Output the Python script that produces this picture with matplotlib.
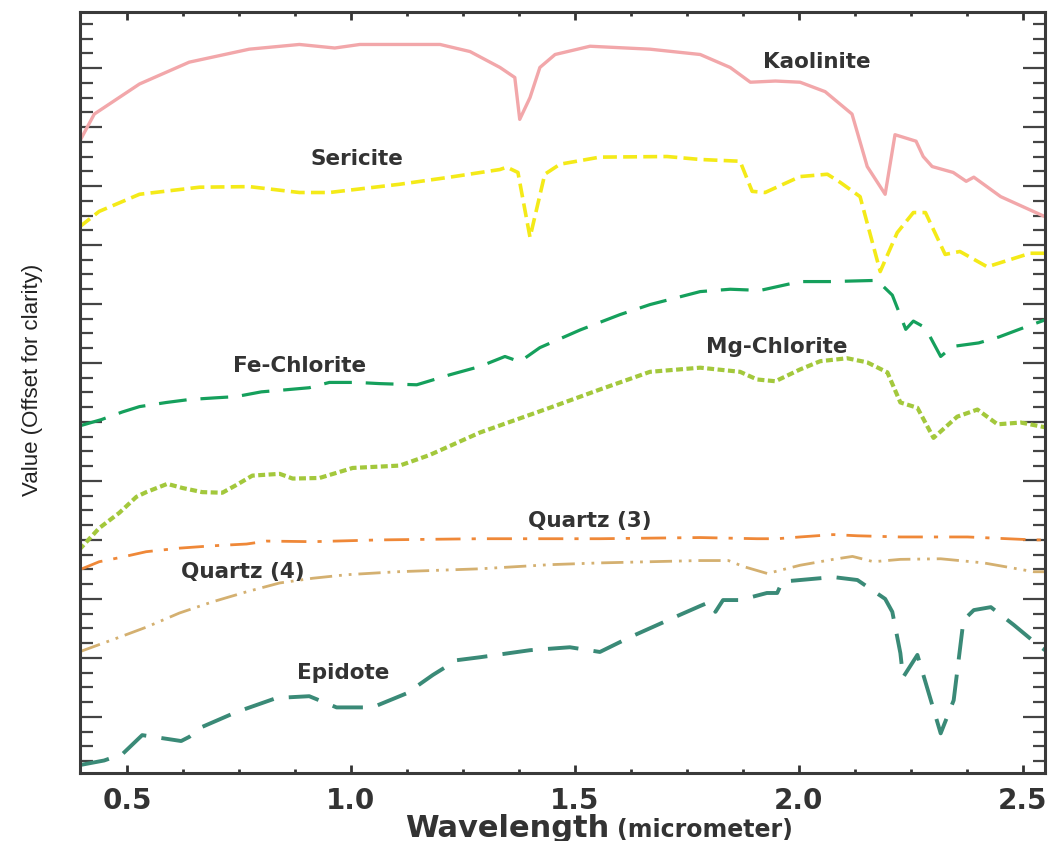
import matplotlib
matplotlib.use('Agg')
import matplotlib.pyplot as plt
from matplotlib.ticker import MultipleLocator, NullFormatter, FormatStrFormatter

plt.rcParams['font.family'] = ['DejaVu Sans']
plt.rcParams['lines.scale_dashes'] = False

# spectra (wavelength in micrometer, offset value)
kao_x = [0.393, 0.427, 0.528, 0.639, 0.773, 0.885, 0.964, 1.020, 1.199, 1.266, 1.333, 1.366,
         1.377, 1.400, 1.422, 1.456, 1.534, 1.668, 1.780, 1.847, 1.892, 1.948, 2.003, 2.059,
         2.119, 2.153, 2.193, 2.215, 2.262, 2.278, 2.298, 2.345, 2.374, 2.391, 2.451, 2.55]
kao_y = [10.74, 11.22, 11.73, 12.10, 12.32, 12.40, 12.34, 12.40, 12.40, 12.28, 12.01, 11.84,
         11.13, 11.50, 12.01, 12.23, 12.37, 12.32, 12.23, 12.01, 11.76, 11.78, 11.76, 11.60,
         11.22, 10.33, 9.86, 10.87, 10.76, 10.50, 10.33, 10.23, 10.08, 10.15, 9.82, 9.48]

ser_x = [0.393, 0.438, 0.528, 0.662, 0.773, 0.885, 0.952, 1.109, 1.221, 1.333, 1.348, 1.373,
         1.400, 1.433, 1.467, 1.556, 1.706, 1.780, 1.869, 1.896, 1.925, 2.003, 2.064, 2.093,
         2.137, 2.182, 2.220, 2.256, 2.283, 2.327, 2.360, 2.421, 2.517, 2.55]
ser_y = [9.30, 9.57, 9.86, 9.98, 9.99, 9.89, 9.89, 10.03, 10.15, 10.28, 10.32, 10.23,
         9.13, 10.20, 10.37, 10.49, 10.50, 10.45, 10.42, 9.91, 9.89, 10.16, 10.20, 10.06,
         9.82, 8.55, 9.21, 9.55, 9.55, 8.84, 8.89, 8.63, 8.86, 8.86]

fec_x = [0.393, 0.443, 0.490, 0.528, 0.588, 0.639, 0.700, 0.744, 0.800, 0.847, 0.907, 0.952,
         1.013, 1.064, 1.147, 1.169, 1.221, 1.288, 1.344, 1.377, 1.422, 1.512, 1.601, 1.668,
         1.780, 1.847, 1.914, 2.003, 2.070, 2.175, 2.209, 2.239, 2.256, 2.275, 2.293, 2.317,
         2.344, 2.402, 2.447, 2.496, 2.55]
fec_y = [5.93, 6.04, 6.17, 6.26, 6.33, 6.38, 6.41, 6.43, 6.51, 6.54, 6.58, 6.67,
         6.67, 6.65, 6.63, 6.68, 6.80, 6.94, 7.11, 7.02, 7.26, 7.56, 7.82, 7.99,
         8.21, 8.25, 8.23, 8.38, 8.38, 8.40, 8.15, 7.57, 7.71, 7.63, 7.45, 7.11,
         7.28, 7.34, 7.44, 7.58, 7.73]

mgc_x = [0.393, 0.438, 0.483, 0.521, 0.543, 0.590, 0.624, 0.668, 0.713, 0.744, 0.780, 0.841,
         0.870, 0.930, 1.004, 1.109, 1.176, 1.288, 1.444, 1.556, 1.668, 1.780, 1.869, 1.907,
         1.948, 2.003, 2.048, 2.108, 2.153, 2.198, 2.227, 2.265, 2.301, 2.354, 2.399, 2.444,
         2.496, 2.55]
mgc_y = [3.83, 4.20, 4.46, 4.73, 4.81, 4.95, 4.88, 4.81, 4.80, 4.93, 5.09, 5.12,
         5.04, 5.05, 5.22, 5.26, 5.44, 5.82, 6.24, 6.55, 6.85, 6.92, 6.85, 6.72,
         6.69, 6.89, 7.03, 7.08, 7.01, 6.84, 6.33, 6.24, 5.73, 6.09, 6.21, 5.96,
         5.99, 5.91]

qz3_x = [0.393, 0.438, 0.490, 0.543, 0.617, 0.691, 0.767, 0.812, 0.915, 1.064, 1.288, 1.556,
         1.780, 1.907, 1.952, 2.003, 2.077, 2.131, 2.227, 2.377, 2.525, 2.55]
qz3_y = [3.49, 3.63, 3.71, 3.80, 3.86, 3.90, 3.93, 3.98, 3.97, 4.00, 4.02, 4.02,
         4.04, 4.02, 4.02, 4.05, 4.09, 4.07, 4.05, 4.05, 4.00, 4.00]

qz4_x = [0.393, 0.483, 0.543, 0.617, 0.691, 0.767, 0.841, 0.915, 0.991, 1.103, 1.288, 1.444,
         1.556, 1.668, 1.780, 1.843, 1.876, 1.930, 2.003, 2.077, 2.120, 2.167, 2.227, 2.317,
         2.413, 2.525, 2.55]
qz4_y = [2.10, 2.35, 2.52, 2.76, 2.95, 3.12, 3.27, 3.35, 3.41, 3.46, 3.51, 3.58,
         3.61, 3.63, 3.65, 3.65, 3.55, 3.43, 3.57, 3.67, 3.72, 3.63, 3.67, 3.68,
         3.61, 3.46, 3.46]

epi_x = [0.393, 0.449, 0.490, 0.534, 0.595, 0.621, 0.639, 0.668, 0.744, 0.834, 0.907, 0.968,
         1.048, 1.125, 1.183, 1.236, 1.288, 1.400, 1.489, 1.556, 1.623, 1.735, 1.780, 1.802,
         1.814, 1.831, 1.869, 1.929, 1.952, 1.963, 1.974, 2.077, 2.131, 2.193, 2.209, 2.227,
         2.233, 2.265, 2.317, 2.346, 2.368, 2.391, 2.429, 2.480, 2.534, 2.55]
epi_y = [0.18, 0.26, 0.37, 0.69, 0.62, 0.59, 0.66, 0.83, 1.08, 1.32, 1.35, 1.16,
         1.16, 1.40, 1.71, 1.96, 2.01, 2.13, 2.18, 2.10, 2.35, 2.73, 2.88, 2.95,
         2.78, 2.98, 2.98, 3.10, 3.10, 3.29, 3.30, 3.37, 3.32, 3.00, 2.78, 2.08,
         1.67, 2.05, 0.72, 1.28, 2.64, 2.81, 2.86, 2.56, 2.22, 2.13]

names = ['Kaolinite', 'Sericite', 'Fe-Chlorite', 'Mg-Chlorite', 'Quartz (3)', 'Quartz (4)', 'Epidote']
label_x = [2.041, 1.014, 0.885, 1.950, 1.534, 0.758, 0.982]
label_y = [12.10, 10.45, 6.95, 7.27, 4.32, 3.46, 1.74]

fig = plt.figure(figsize=(10.59, 8.41), dpi=100)
ax = fig.add_axes([0.0755, 0.0803, 0.9113, 0.9054])

ax.plot(kao_x, kao_y, color='#f2a7aa', lw=2.4)
ax.plot(ser_x, ser_y, color='#f4ea18', lw=2.6, dashes=(10, 4.5))
ax.plot(fec_x, fec_y, color='#15a05c', lw=2.3, dashes=(20, 10))
ax.plot(mgc_x, mgc_y, color='#a3c83c', lw=3.0, dashes=(5, 2.5))
ax.plot(qz3_x, qz3_y, color='#ef8838', lw=2.0, dashes=(18, 8, 3, 8))
ax.plot(qz4_x, qz4_y, color='#d4b070', lw=2.0, dashes=(16, 5, 2, 5, 2, 5))
ax.plot(epi_x, epi_y, color='#3a8a77', lw=2.8, dashes=(22, 11))

for n, tx, ty in zip(names, label_x, label_y):
    ax.text(tx, ty, n, ha='center', va='center', fontsize=15.5, fontweight='bold', color='#333333')

ax.set_xlim(0.395, 2.55)
ax.set_ylim(0.04, 12.95)
ax.xaxis.set_major_locator(MultipleLocator(0.5))
ax.xaxis.set_minor_locator(MultipleLocator(0.125))
ax.xaxis.set_major_formatter(FormatStrFormatter('%.1f'))
ax.yaxis.set_major_locator(MultipleLocator(1))
ax.yaxis.set_minor_locator(MultipleLocator(0.25))
ax.yaxis.set_major_formatter(NullFormatter())

ax.tick_params(axis='x', which='major', direction='in', top=True, bottom=True, length=6, width=2,
               color='#333333', labelsize=20, labelcolor='#333333', pad=10)
ax.tick_params(axis='x', which='minor', direction='in', top=True, bottom=True, length=3, width=2,
               color='#333333')
ax.tick_params(axis='y', which='major', direction='in', left=True, right=True, length=16, width=1.6,
               color='#444444')
ax.tick_params(axis='y', which='minor', direction='in', left=True, right=True, length=9, width=1.6,
               color='#444444')
for lab in ax.get_xticklabels():
    lab.set_fontweight('bold')

for sp in ax.spines.values():
    sp.set_color('#3a3a3a')
    sp.set_linewidth(2.2)

ax.text(0.549, -0.083, 'Wavelength', transform=ax.transAxes, ha='right', va='baseline',
        fontsize=22, fontweight='bold', color='#333333')
ax.text(0.556, -0.083, '(micrometer)', transform=ax.transAxes, ha='left', va='baseline',
        fontsize=17, fontweight='bold', color='#333333')
ax.text(-0.049, 0.517, 'Value (Offset for clarity)', transform=ax.transAxes, rotation=90,
        ha='center', va='center', fontsize=16, color='#222222',
        family=['Liberation Sans', 'DejaVu Sans'])

fig.savefig('out.png', dpi=100)
